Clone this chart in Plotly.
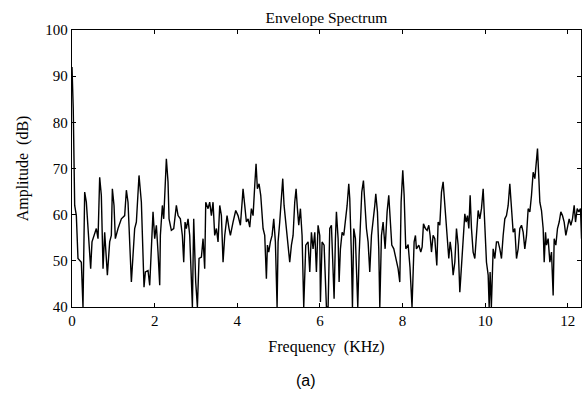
import plotly.graph_objects as go

freq_khz = [
    0.0, 0.03, 0.065, 0.105, 0.145, 0.226, 0.266, 0.307, 0.347, 0.452, 0.484, 0.589, 0.630, 0.670, 0.710,
    0.751, 0.791, 0.856, 0.912, 0.952, 0.977, 1.017, 1.049, 1.114, 1.195, 1.275, 1.316, 1.356, 1.437,
    1.477, 1.517, 1.558, 1.622, 1.679, 1.743, 1.776, 1.840, 1.881, 1.921, 1.961,
    2.002, 2.042, 2.082, 2.123, 2.139, 2.187, 2.220, 2.244, 2.284, 2.324, 2.349, 2.405, 2.462, 2.526,
    2.567, 2.623, 2.671, 2.704, 2.736, 2.768, 2.809, 2.849, 2.889, 2.914, 2.946, 2.994, 3.035, 3.075,
    3.132, 3.172, 3.212, 3.237, 3.293, 3.333, 3.374, 3.414, 3.454, 3.495, 3.535, 3.576, 3.616, 3.656,
    3.697, 3.753, 3.801, 3.834, 3.898, 3.963, 4.019, 4.076, 4.124,
    4.140, 4.181, 4.221, 4.262, 4.302, 4.342, 4.383, 4.423, 4.455, 4.487, 4.528, 4.568, 4.625, 4.665,
    4.705, 4.730, 4.762, 4.802, 4.843, 4.883, 4.923, 4.964, 4.988, 5.028, 5.069, 5.101, 5.133, 5.190,
    5.230, 5.270, 5.311, 5.351, 5.391, 5.424, 5.456, 5.488, 5.529, 5.569, 5.609, 5.658, 5.714, 5.755,
    5.795, 5.835, 5.876, 5.916, 5.956, 5.997, 6.013, 6.053, 6.102, 6.158,
    6.199, 6.239, 6.279, 6.320, 6.344, 6.376, 6.400, 6.441, 6.465, 6.497, 6.538, 6.578, 6.618, 6.659,
    6.699, 6.723, 6.763, 6.788, 6.820, 6.860, 6.885, 6.917, 6.949, 6.981, 7.014, 7.054, 7.086, 7.127,
    7.167, 7.207, 7.248, 7.288, 7.329, 7.353, 7.393, 7.425, 7.450, 7.490, 7.530, 7.579, 7.627, 7.667,
    7.708, 7.740, 7.789, 7.837, 7.893, 7.934, 7.966, 8.006, 8.039, 8.079, 8.136, 8.180, 8.230,
    8.281, 8.313, 8.337, 8.394, 8.442, 8.475, 8.507, 8.555, 8.596, 8.636, 8.668, 8.701, 8.741, 8.781,
    8.830, 8.862, 8.902, 8.943, 8.983, 9.023, 9.064, 9.088, 9.120, 9.153, 9.185, 9.225, 9.266, 9.306,
    9.346, 9.387, 9.427, 9.467, 9.508, 9.540, 9.572, 9.605, 9.637, 9.669, 9.709, 9.750, 9.790, 9.831,
    9.871, 9.911, 9.952, 9.992, 10.032, 10.073, 10.097, 10.120, 10.150, 10.194,
    10.234, 10.274, 10.315, 10.355, 10.395, 10.436, 10.476, 10.516, 10.557, 10.597, 10.638, 10.678,
    10.718, 10.759, 10.799, 10.840, 10.880, 10.920, 10.960, 11.001, 11.041, 11.082, 11.122, 11.162,
    11.203, 11.243, 11.267, 11.300, 11.324, 11.364, 11.404, 11.429, 11.461, 11.485, 11.525, 11.566,
    11.606, 11.646, 11.671, 11.711, 11.751, 11.792, 11.832, 11.872, 11.913, 11.953, 11.993, 12.034,
    12.074, 12.114, 12.155, 12.187, 12.228, 12.268, 12.308, 12.333,
]

amplitude_db = [
    92.0, 83.0, 62.0, 59.8, 50.5, 49.7, 40.0, 64.9, 62.7, 48.3, 54.1, 57.0, 54.8, 68.1, 64.2,
    48.3, 56.2, 46.9, 54.1, 55.5, 65.6, 62.0, 54.8, 57.0, 59.1, 59.8, 65.3, 62.7, 45.4,
    51.9, 57.0, 58.4, 68.5, 62.7, 44.3, 47.6, 47.9, 44.7, 51.2, 60.6,
    54.8, 57.7, 51.9, 44.7, 55.5, 62.0, 59.1, 64.2, 72.1, 67.1, 59.1, 56.6, 57.0, 62.0,
    59.8, 59.1, 55.5, 49.7, 58.4, 57.0, 59.1, 55.5, 46.9, 40.0, 59.1, 45.4, 40.0, 50.5,
    50.8, 54.8, 48.3, 62.7, 61.3, 62.7, 59.8, 62.7, 55.5, 57.0, 54.1, 62.0, 59.8, 49.7,
    55.5, 59.8, 57.0, 55.5, 58.4, 60.9, 59.8, 57.7, 63.5,
    65.6, 62.0, 58.4, 59.1, 57.3, 61.3, 59.8, 66.3, 71.0, 65.6, 66.7, 64.2, 57.0, 55.5,
    46.1, 53.4, 51.9, 54.1, 55.5, 59.1, 54.1, 40.0, 54.1, 58.4, 64.9, 67.8, 62.0, 57.0,
    54.1, 49.7, 53.4, 55.5, 62.7, 65.6, 61.3, 57.7, 61.3, 55.5, 40.0, 53.4, 54.1, 47.6,
    56.2, 52.6, 56.2, 47.6, 57.7, 55.5, 41.1, 54.1, 53.4, 40.0,
    40.0, 57.0, 57.7, 45.4, 41.8, 54.8, 60.6, 54.8, 45.4, 52.6, 56.2, 55.5, 58.4, 62.0,
    66.7, 63.5, 51.2, 40.0, 57.0, 54.8, 48.3, 40.0, 51.2, 58.4, 64.9, 67.4, 62.0, 57.0,
    54.1, 47.6, 55.5, 58.4, 62.0, 64.5, 60.6, 52.6, 40.0, 55.5, 58.4, 52.6, 60.6, 64.2,
    57.0, 53.4, 52.6, 50.5, 48.3, 45.4, 62.7, 69.6, 64.2, 52.6, 53.5, 48.7, 40.0,
    54.1, 55.5, 52.6, 53.4, 51.9, 53.0, 58.0, 57.0, 56.6, 57.7, 55.5, 51.9, 55.5, 54.8,
    49.0, 58.4, 57.7, 64.9, 67.1, 62.0, 57.0, 52.6, 50.5, 54.1, 51.9, 46.9, 49.7, 57.0,
    53.4, 43.2, 49.0, 54.8, 60.2, 58.4, 59.8, 57.0, 64.2, 57.0, 51.9, 50.5, 56.2, 60.9,
    59.1, 61.3, 65.6, 58.4, 49.7, 46.9, 40.0, 47.6, 40.0, 52.6,
    50.5, 54.1, 54.1, 52.6, 50.5, 55.5, 59.1, 59.8, 62.0, 66.7, 60.6, 56.2,
    57.0, 50.5, 52.6, 57.0, 57.7, 56.2, 52.6, 55.5, 61.3, 60.6, 64.2, 69.2,
    67.8, 72.1, 74.3, 67.8, 62.7, 60.9, 57.0, 49.7, 56.2, 53.4, 54.8, 49.7,
    51.9, 42.5, 54.8, 53.4, 57.0, 58.4, 60.6, 59.8, 58.4, 55.5, 57.0, 59.1,
    57.7, 59.1, 62.0, 58.4, 61.3, 60.6, 61.3, 54.8,
]

x_ticks = [0, 2, 4, 6, 8, 10, 12]
y_ticks = [40, 50, 60, 70, 80, 90, 100]

serif = "Liberation Serif, Times New Roman, serif"

fig = go.Figure()
fig.add_trace(go.Scatter(
    x=freq_khz, y=amplitude_db, mode="lines",
    line=dict(color="black", width=1.4),
    showlegend=False, hoverinfo="skip",
))

axis_common = dict(
    showline=True, linecolor="black", linewidth=1.3, mirror="ticks",
    ticks="inside", ticklen=4, tickcolor="black", tickwidth=1,
    showgrid=False, zeroline=False,
    tickfont=dict(family=serif, size=15, color="black"),
)

fig.update_xaxes(
    range=[0, 12.32], tickvals=x_ticks, ticktext=[str(v) for v in x_ticks],
    title=dict(text="Frequency  (KHz)", font=dict(family=serif, size=16, color="black"), standoff=12),
    **axis_common,
)
fig.update_yaxes(
    range=[40, 100], tickvals=y_ticks, ticktext=[str(v) for v in y_ticks],
    title=dict(text="Amplitude  (dB)", font=dict(family=serif, size=16, color="black"), standoff=12),
    **axis_common,
)

fig.update_layout(
    width=586, height=394,
    margin=dict(l=72, r=5, t=30, b=87),
    paper_bgcolor="white", plot_bgcolor="white",
    title=dict(text="Envelope Spectrum", x=0.557, xanchor="center", y=0.955, yanchor="middle",
               font=dict(family=serif, size=15.5, color="black")),
    annotations=[dict(
        text="(a)", xref="paper", yref="paper", x=0.46, y=-0.265,
        xanchor="center", yanchor="middle", showarrow=False,
        font=dict(family="Liberation Sans, Arial, sans-serif", size=16, color="black"),
    )],
)

fig.write_html("out.html")
